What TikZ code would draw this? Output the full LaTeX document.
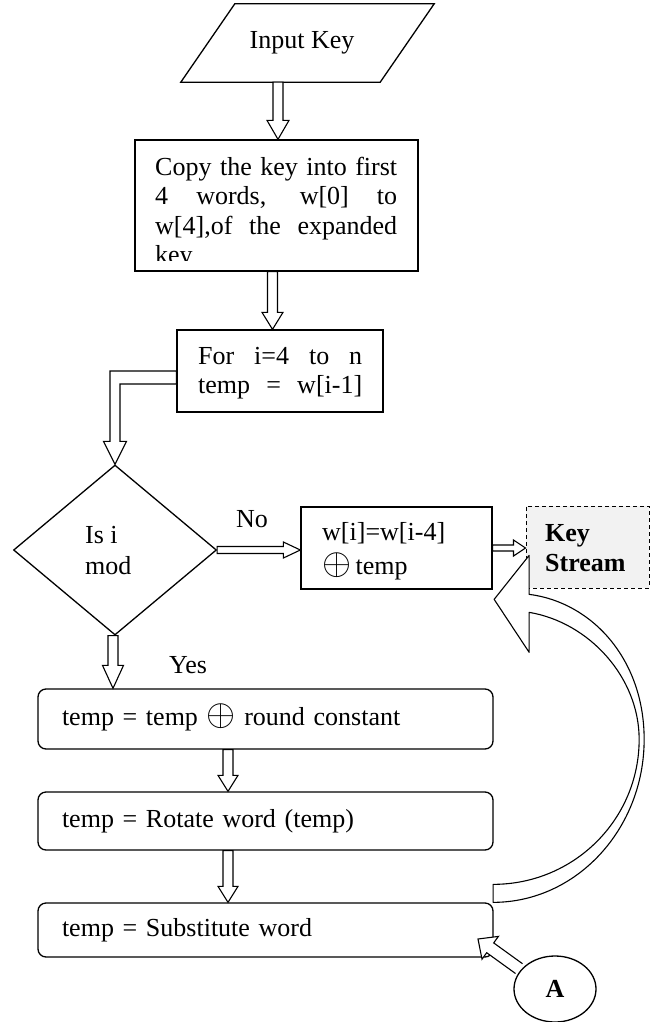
\documentclass[tikz,border=0pt]{standalone}
\usepackage{fontspec}
\setmainfont{Liberation Serif}
\usetikzlibrary{shapes.geometric,calc}
\newcommand\xo{\smash{\scalebox{1.5}{$\oplus$}}}
\newcommand\hdown[5]{%
  \draw[harrow] let \p1=(#1), \p2=(#2) in
    (\x1-#3,\y1) -- (\x1-#3,\y2+#5) -- (\x1-#4,\y2+#5) -- (\x1,\y2)
    -- (\x1+#4,\y2+#5) -- (\x1+#3,\y2+#5) -- (\x1+#3,\y1) -- cycle;}
\newcommand\hright[5]{%
  \draw[harrow] let \p1=(#1), \p2=(#2) in
    (\x1,\y1+#3) -- (\x2-#5,\y1+#3) -- (\x2-#5,\y1+#4) -- (\x2,\y1)
    -- (\x2-#5,\y1-#4) -- (\x2-#5,\y1-#3) -- (\x1,\y1-#3) -- cycle;}
\begin{document}
\begin{tikzpicture}[x=1pt,y=-1pt,
  every node/.style={font=\fontsize{26}{30}\selectfont},
  box/.style={draw, line width=1.3pt, inner sep=0pt},
  rbox/.style={box, rounded corners=8pt, inner xsep=24pt, text width=407pt, align=left},
  harrow/.style={draw, line width=1.1pt, fill=white, line join=miter},
  lbl/.style={inner sep=0pt}]
\useasboundingbox (0,0) rectangle (651,1022);

% Input Key
\node[inner sep=0pt, minimum width=253pt, minimum height=78pt] (inkey) at (307.5,43) {};
\draw[line width=1.3pt] (inkey.south west) -- ($(inkey.south east)+(-54,0)$)
   -- (inkey.north east) -- ($(inkey.north west)+(54,0)$) -- cycle;
\node[lbl] (inkeyt) at (302,43) {Input Key};

% Copy box
\node[box, minimum width=283pt, minimum height=131pt] (copy) at (276.5,205.5) {};
\begin{scope}
  \clip (copy.north west) rectangle ($(copy.south east)+(0,-11)$);
  \node[lbl, anchor=base west] (copyt) at (155,175)
   {\parbox[t]{242pt}{\fontsize{26}{29.5}\selectfont
    \makebox[242pt][s]{Copy the key into first}\\
    \makebox[242pt][s]{4 words, w[0] to}\\
    \makebox[242pt][s]{w[4],of the expanded}\\
    key}};
\end{scope}

% For box
\node[box, minimum width=206pt, minimum height=82pt] (for) at (280,371) {};
\node[lbl, anchor=base west] (fort) at (198,364)
  {\parbox[t]{164pt}{\fontsize{26}{29}\selectfont
   \makebox[164pt][s]{For i=4 to n}\\\makebox[164pt][s]{temp = w[i-1]}}};

% Diamond
\node[diamond, draw, line width=1.3pt, inner sep=0pt,
      minimum width=203pt, minimum height=170pt] (dia) at (115,550) {};
\node[lbl, anchor=base west] (diat) at (85,543)
  {\parbox[t]{60pt}{\fontsize{26}{31}\selectfont Is i\\mod}};
\node[lbl] (no) at (252,519) {No};
\node[lbl] (yes) at (188,665) {Yes};

% w box
\node[box, minimum width=191pt, minimum height=82pt] (wbox) at (396.5,548) {};
\node[lbl, anchor=base west] (wboxt1) at (322,540) {w[i]=w[i-4]};
\node[lbl, anchor=base west] (wboxt2) at (322,574) {\xo\,temp};

% Key Stream
\node[draw, dashed, dash pattern=on 4pt off 3pt, line width=1pt, fill=black!5,
      inner sep=0pt, minimum width=123pt, minimum height=82pt] (ks) at (587.5,547) {};
\node[lbl, anchor=base west] (kst) at (545,541)
  {\parbox[t]{100pt}{\bfseries\fontsize{26}{30}\selectfont Key\\Stream}};

% rounded boxes
\node[rbox, minimum height=60pt] (rc) at (265.5,719)
  {temp = temp \xo\ round constant};
\node[rbox, minimum height=58pt] (rot) at (265.5,821)
  {temp = Rotate word (temp)};
\node[rbox, minimum height=54pt] (sub) at (265.5,930)
  {temp = Substitute word};

% hollow arrows
\hdown{$(inkey.south)+(-29.5,0)$}{copy.north}{5pt}{11pt}{19pt}
\hdown{$(copy.south)+(-4,0)$}{for.north}{5pt}{10.5pt}{17pt}
\draw[harrow] let \p1=($(for.west)+(0,6.5)$), \p2=(dia.north) in
  (\x1,\y1+6.5pt) -- (\x2-5pt,\y1+6.5pt) -- (\x2-5pt,\y2+23pt)
  -- (\x2-11.5pt,\y2+23pt) -- (\x2,\y2) -- (\x2+11.5pt,\y2+23pt)
  -- (\x2+5pt,\y2+23pt) -- (\x2+5pt,\y1-6.5pt) -- (\x1,\y1-6.5pt) -- cycle;
\hright{dia.east}{wbox.west}{3.5pt}{8pt}{17pt}
\hright{wbox.east}{ks.west}{3pt}{8pt}{12pt}
\hdown{$(dia.south)+(-2,0)$}{rc.north}{5pt}{10.5pt}{23pt}
\hdown{$(rc.south)+(-37.5,0)$}{rot.north}{5pt}{10pt}{16pt}
\hdown{$(rot.south)+(-37.5,0)$}{sub.north}{5pt}{10pt}{16pt}

% big curved arrow from Substitute box back to Key Stream
\begin{scope}[shift={($(sub.north east)+(-0.5,0)$)}]
\draw[harrow, line join=round]
  (0,0) .. controls (83,0) and (151,-73) .. (151,-163)
        .. controls (151,-243) and (99,-300) .. (36,-308)
  -- (36,-347) -- (1,-303) -- (36,-250) -- (36,-290)
        .. controls (96,-280) and (146,-225) .. (146,-163)
        .. controls (146,-83) and (81,-18) .. (0,-18) -- cycle;
\end{scope}

% A connector
\node[ellipse, draw, line width=1.3pt, fill=white, minimum width=82pt,
      minimum height=66pt, inner sep=0pt, font=\bfseries\fontsize{26}{30}\selectfont]
  (circA) at (555,989) {A};
\begin{scope}[shift={(circA.center)}]
\draw[harrow]
  (-32.5,-25.3) -- (-61.3,-46.1) -- (-56.6,-52.6) -- (-77,-50) -- (-73,-29.8)
  -- (-68.3,-36.3) -- (-39.5,-15.5);
\end{scope}
\end{tikzpicture}
\end{document}
